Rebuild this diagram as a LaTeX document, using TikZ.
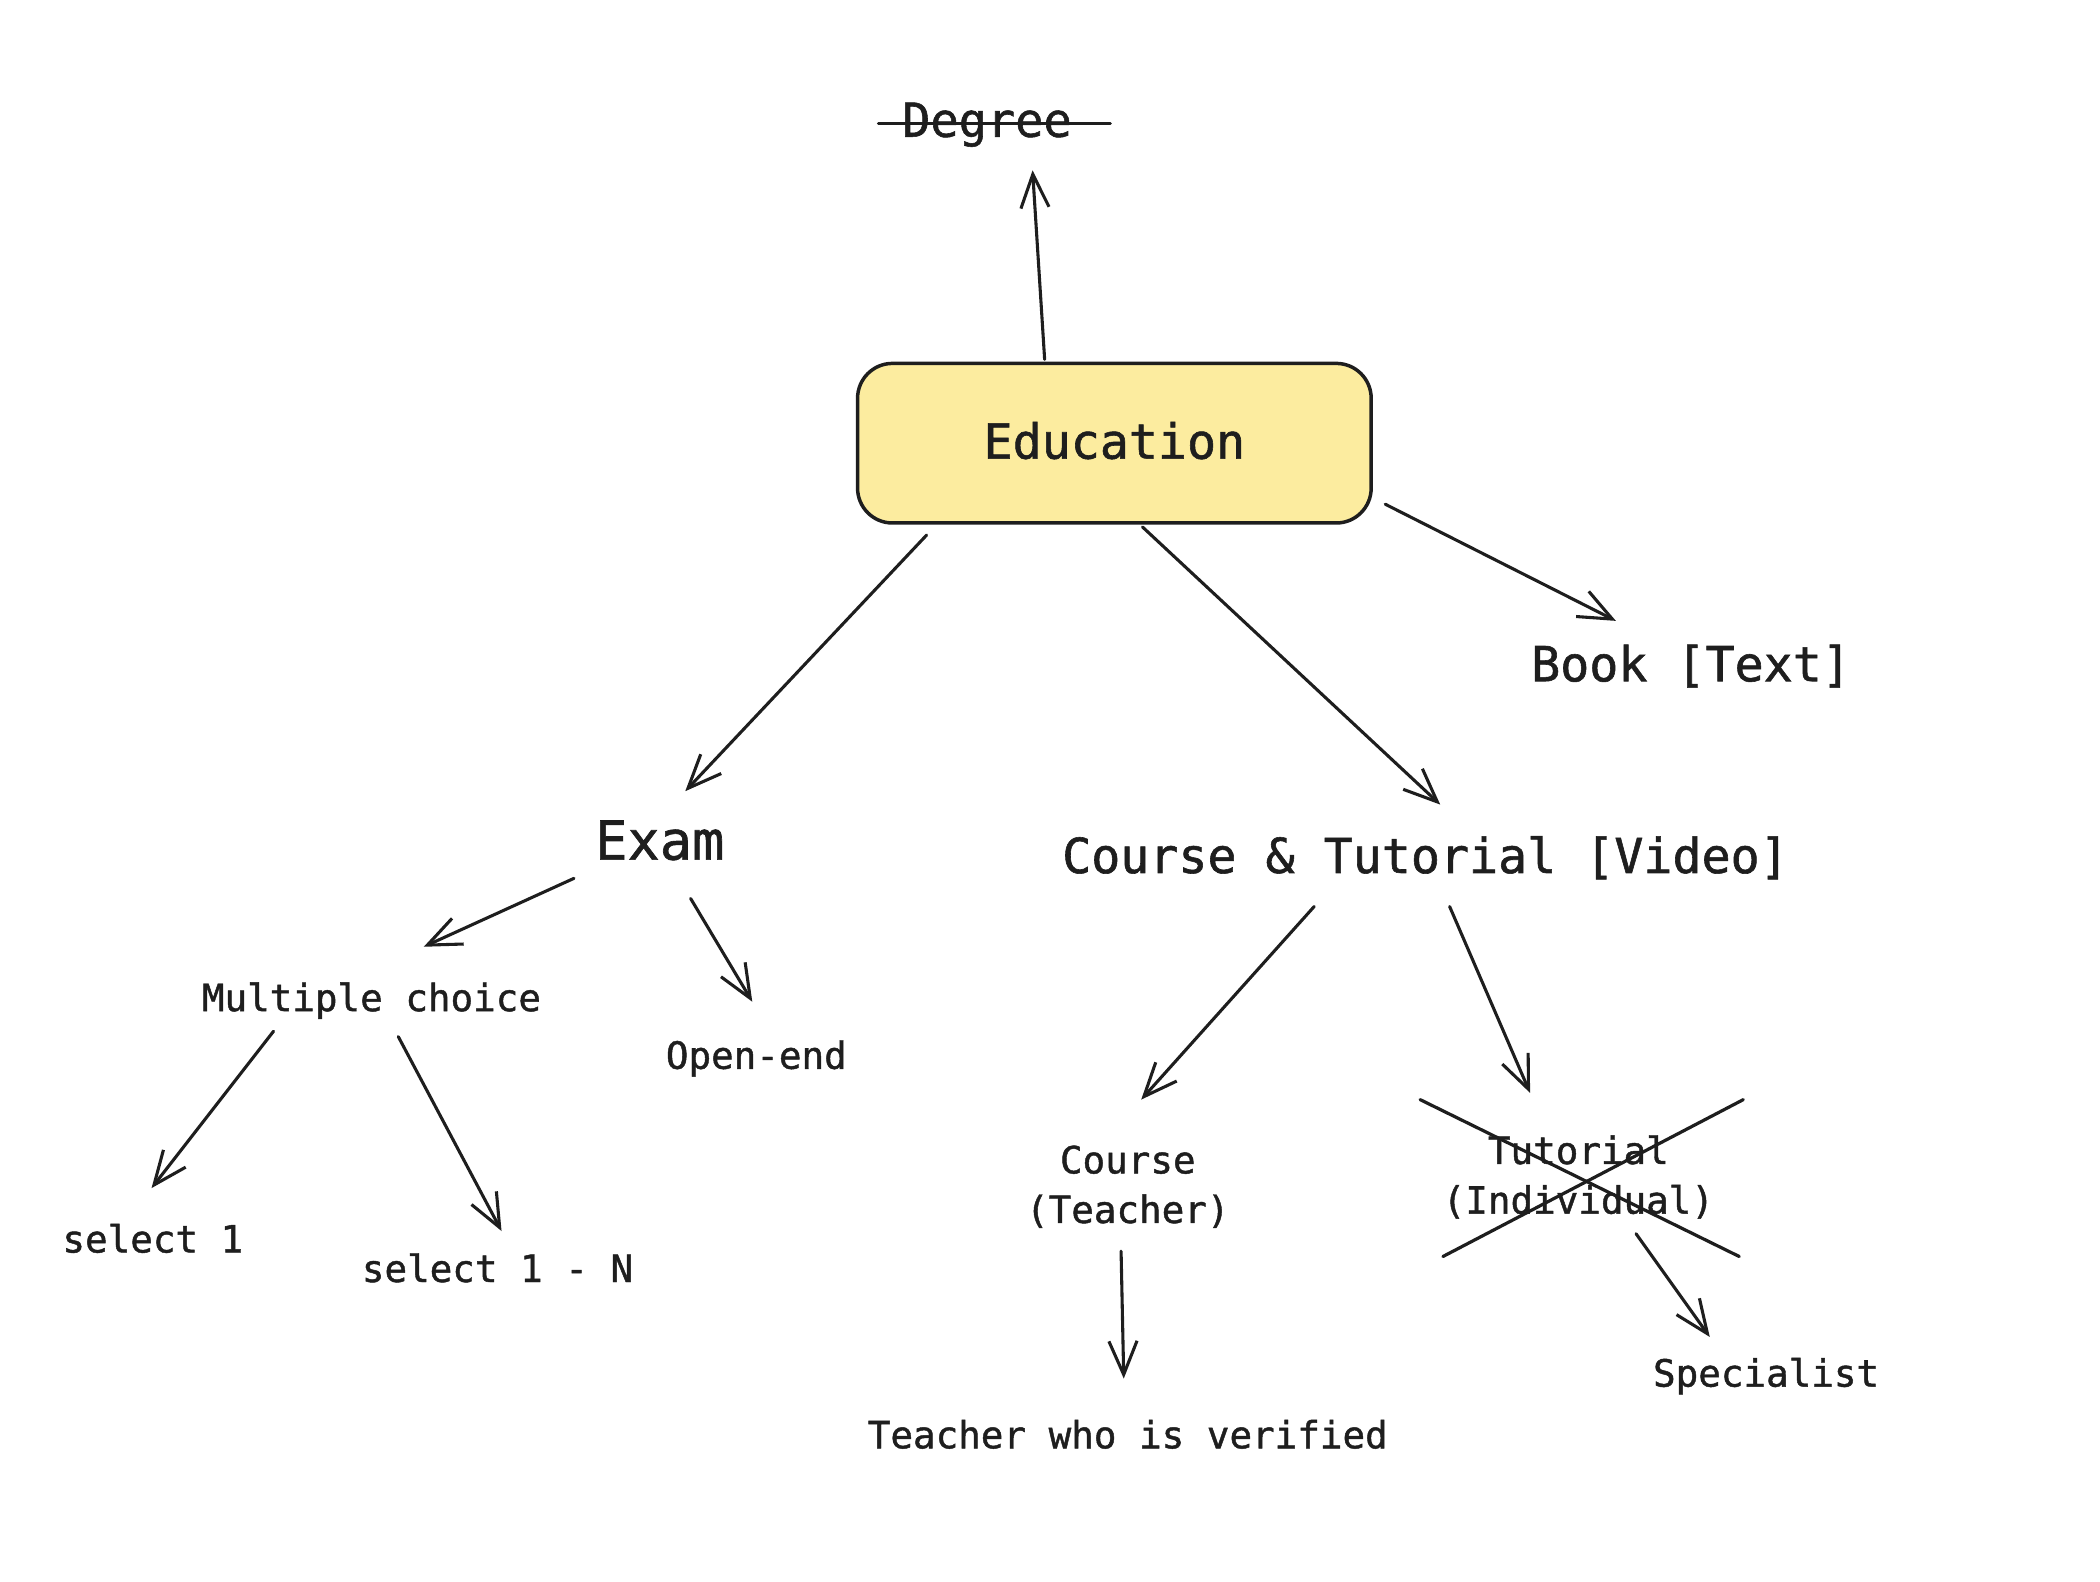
\documentclass[tikz,border=0pt]{standalone}
\usepackage{fontspec}
\setmonofont[FakeBold=1.2]{DejaVu Sans Mono}
\usetikzlibrary{arrows.meta}
\definecolor{ink}{HTML}{1E1E1E}
\definecolor{boxfill}{HTML}{FCEC9F}
\tikzset{
  lbl/.style={inner sep=0pt, anchor=base, text=ink, font=\ttfamily\fontsize{28}{37}\selectfont, align=center},
  biglbl/.style={lbl, font=\ttfamily\fontsize{36}{44}\selectfont},
  conn/.style={draw=ink, line width=2.3pt, line cap=round, -{Straight Barb[length=25pt,width=21pt,line width=2.3pt]}},
  strike/.style={draw=ink, line width=2.4pt, line cap=round},
  mainbox/.style={draw=ink, line width=2.6pt, fill=boxfill, rounded corners=26pt, minimum width=383pt, minimum height=119pt, inner sep=0pt}
}
\begin{document}
\begin{tikzpicture}[x=1pt,y=-1pt]
\useasboundingbox (0,0) rectangle (1566,1179.7);
% nodes
\node[mainbox] (edu) at (831,330.5) {};
\node[biglbl] (edut) at (831,342) {Education};
\node[biglbl, font=\ttfamily\fontsize{35}{42}\selectfont] (deg) at (736,102) {Degree};
\node[biglbl, font=\ttfamily\fontsize{40}{48}\selectfont] (exam) at (492,641) {Exam};
\node[biglbl] (ct) at (1063,651) {Course \& Tutorial [Video]};
\node[biglbl] (book) at (1261,508) {Book [Text]};
\node[lbl] (mc) at (277,754) {Multiple choice};
\node[lbl] (open) at (564,797) {Open-end};
\node[lbl] (s1) at (114,934) {select 1};
\node[lbl] (s1n) at (371,956) {select 1 - N};
\node[lbl] (course) at (841,912) {Course\\(Teacher)};
\node[lbl] (tut) at (1177,905) {Tutorial\\(Individual)};
\node[lbl] (teach) at (841,1080) {Teacher who is verified};
\node[lbl] (spec) at (1317,1034) {Specialist};
% connector end points
\coordinate (eduTop) at (779,268);
\coordinate (degIn) at (770,127);
\coordinate (eduL) at (691,399);
\coordinate (examIn) at (511,590);
\coordinate (eduM) at (852,393);
\coordinate (ctIn) at (1074,600);
\coordinate (eduR) at (1033,376);
\coordinate (bookIn) at (1205,463);
\coordinate (examL) at (428,655);
\coordinate (mcIn) at (316,706);
\coordinate (examR) at (515,670);
\coordinate (openIn) at (561,747);
\coordinate (mcL) at (204,769);
\coordinate (s1In) at (113,886);
\coordinate (mcR) at (297,773);
\coordinate (s1nIn) at (374,918);
\coordinate (ctL) at (980,676);
\coordinate (courseIn) at (851,820);
\coordinate (ctR) at (1081,676);
\coordinate (tutIn) at (1141,815);
\coordinate (courseOut) at (836,933);
\coordinate (teachIn) at (838,1028);
\coordinate (tutOut) at (1220,920);
\coordinate (specIn) at (1275,997);
% connectors
\draw[conn] (eduTop) -- (degIn);
\draw[conn] (eduL) -- (examIn);
\draw[conn] (eduM) -- (ctIn);
\draw[conn] (eduR) -- (bookIn);
\draw[conn] (examL) -- (mcIn);
\draw[conn] (examR) -- (openIn);
\draw[conn] (mcL) -- (s1In);
\draw[conn] (mcR) -- (s1nIn);
\draw[conn] (ctL) -- (courseIn);
\draw[conn] (ctR) -- (tutIn);
\draw[conn] (courseOut) -- (teachIn);
\draw[conn] (tutOut) -- (specIn);
% strike-throughs
\coordinate (degS1) at (655,92);
\coordinate (degS2) at (828,92);
\draw[strike] (degS1) -- (degS2);
\coordinate (x1) at (1059,820);
\coordinate (x2) at (1297,937);
\coordinate (x3) at (1300,820);
\coordinate (x4) at (1076,937);
\draw[strike] (x1) -- (x2);
\draw[strike] (x3) -- (x4);
\end{tikzpicture}
\end{document}
